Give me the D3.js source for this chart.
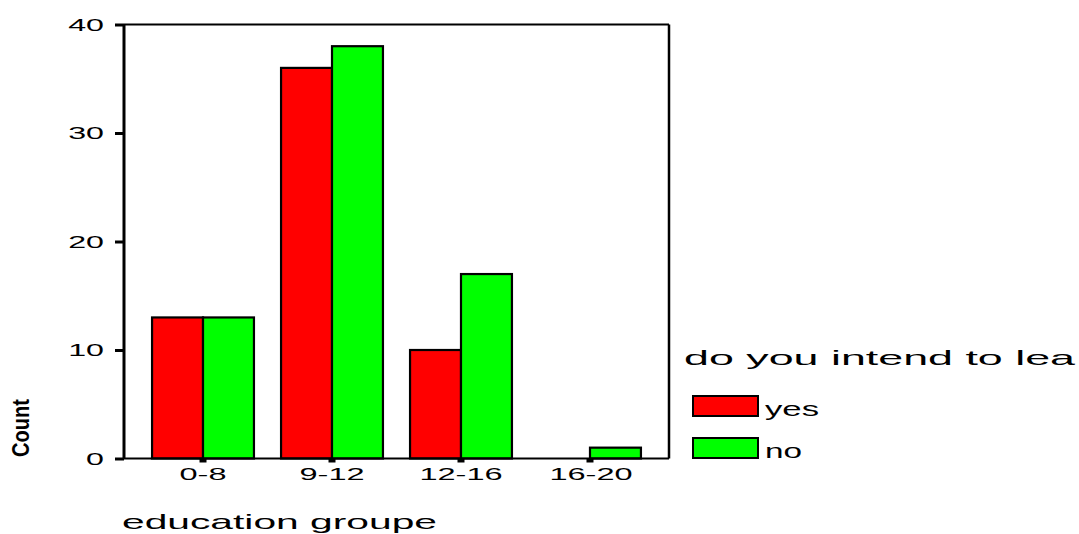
<!DOCTYPE html>
<html><head><meta charset="utf-8">
<script src="https://cdn.jsdelivr.net/npm/d3@7"></script>
<style>html,body{margin:0;padding:0;background:#fff;}svg{display:block;}svg text{font-family:"Liberation Sans",Arial,sans-serif;}</style>
</head><body>
<svg id="c" width="1079" height="534"></svg>
<script>
const categories = ["0-8", "9-12", "12-16", "16-20"];
const seriesNames = ["yes", "no"];
const yesValues = [13, 36, 10, 0];
const noValues = [13, 38, 17, 1];
const yTicks = [0, 10, 20, 30, 40];
const colors = {yes: "#ff0000", no: "#00ff00"};

const svg = d3.select("#c");
const L = 124, R = 669, T = 24.5, B = 458.5;

const x = d3.scaleBand().domain(categories).range([L, R]).paddingInner(0.21).paddingOuter(0.2175);
const xs = d3.scaleBand().domain(seriesNames).range([0, x.bandwidth()]);
const y = d3.scaleLinear().domain([0, 40]).range([B, T]);

function stretch(sel, f) {
  sel.each(function() {
    const w = this.getComputedTextLength();
    d3.select(this).attr("textLength", w * f).attr("lengthAdjust", "spacingAndGlyphs");
  });
}

// bars
const data = categories.map((c, i) => ({c, vals: [{k: "yes", v: yesValues[i]}, {k: "no", v: noValues[i]}]}));
const g = svg.append("g").selectAll("g").data(data).join("g").attr("transform", d => `translate(${x(d.c)},0)`);
g.selectAll("rect").data(d => d.vals.filter(e => e.v > 0)).join("rect")
  .attr("x", d => xs(d.k)).attr("width", xs.bandwidth())
  .attr("y", d => y(d.v)).attr("height", d => y(0) - y(d.v))
  .attr("fill", d => colors[d.k]).attr("stroke", "#000").attr("stroke-width", 2.2);

// frame top/right
svg.append("line").attr("x1", L).attr("x2", R).attr("y1", T).attr("y2", T).attr("stroke", "#000").attr("stroke-width", 2);
svg.append("line").attr("x1", R).attr("x2", R).attr("y1", T).attr("y2", B).attr("stroke", "#000").attr("stroke-width", 2.5);

// y axis
const ya = svg.append("g").attr("transform", `translate(${L},0)`)
  .call(d3.axisLeft(y).tickValues(yTicks).tickSize(9).tickPadding(11).tickSizeOuter(0));
ya.attr("font-family", null);
ya.select(".domain").attr("stroke-width", 3).attr("d", `M0,${T}V${B}`);
ya.selectAll(".tick line").attr("stroke-width", 3);
ya.selectAll(".tick text").attr("font-size", 16.5).attr("fill", "#000").attr("dy", "0.36em");
stretch(ya.selectAll(".tick text"), 1.95);

// x axis
const xa = svg.append("g").attr("transform", `translate(0,${B})`)
  .call(d3.axisBottom(x).tickSize(4).tickPadding(6).tickSizeOuter(0));
xa.attr("font-family", null);
xa.select(".domain").attr("stroke-width", 2).attr("d", `M${L},0H${R}`);
xa.selectAll(".tick line").attr("stroke-width", 7);
xa.selectAll(".tick").attr("transform", d => `translate(${x(d) + (d === "16-20" ? xs.bandwidth() : x.bandwidth() / 2)},0)`);
xa.selectAll(".tick text").attr("font-size", 16.5).attr("fill", "#000").attr("y", 21.5).attr("dy", 0)
  .attr("transform", d => d === "16-20" ? "translate(1,0)" : null);
stretch(xa.selectAll(".tick text"), 1.97);

// axis titles
svg.append("text").attr("x", 122).attr("y", 528.5).attr("font-size", 21).text("education groupe")
  .attr("textLength", 315).attr("lengthAdjust", "spacingAndGlyphs");
svg.append("text").attr("transform", "translate(29,457) rotate(-90)").attr("font-size", 23).attr("font-weight", "bold").text("Count")
  .attr("textLength", 58).attr("lengthAdjust", "spacingAndGlyphs");

// legend
svg.append("text").attr("x", 684).attr("y", 365).attr("font-size", 21).text("do you intend to lea")
  .attr("textLength", 391).attr("lengthAdjust", "spacingAndGlyphs");
const lg = svg.append("g").selectAll("g").data(seriesNames).join("g")
  .attr("transform", (d, i) => `translate(693,${396 + i * 42})`);
lg.append("rect").attr("width", 65).attr("height", 20).attr("fill", d => colors[d]).attr("stroke", "#000").attr("stroke-width", 2);
lg.append("text").attr("x", 72).attr("y", 19.5).attr("font-size", 21).text(d => d)
  .each(function(d) { d3.select(this).attr("textLength", d === "yes" ? 54 : 37).attr("lengthAdjust", "spacingAndGlyphs"); });
</script>
</body></html>
